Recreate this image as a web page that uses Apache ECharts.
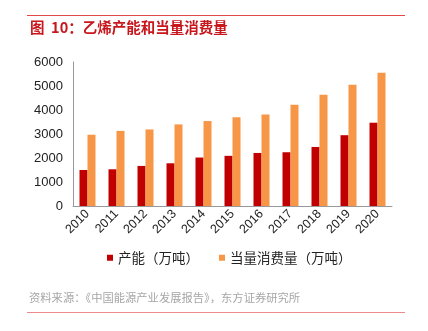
<!DOCTYPE html>
<html>
<head>
<meta charset="utf-8">
<style>
  html, body { margin: 0; padding: 0; background: #fff; }
  #chart { width: 428px; height: 331px; }
</style>
<script src="https://cdn.jsdelivr.net/npm/echarts@6/dist/echarts.min.js"></script>
</head>
<body>
<div id="chart"></div>
<script>
// Ethylene capacity vs. equivalent consumption, 10k tonnes
const years = ['2010', '2011', '2012', '2013', '2014', '2015', '2016', '2017', '2018', '2019', '2020'];
const capacity = [1500, 1530, 1670, 1780, 2020, 2090, 2210, 2240, 2460, 2950, 3470];
const consumption = [2970, 3130, 3190, 3400, 3540, 3700, 3810, 4220, 4640, 5050, 5550];
const yTicks = { min: 0, max: 6000, interval: 1000 };

const titleText = '图  10：乙烯产能和当量消费量';
const sourceText = '资料来源：《中国能源产业发展报告》，东方证券研究所';
const seriesNames = ['产能（万吨）', '当量消费量（万吨）'];

const latin = '"Liberation Sans", Arial, "Noto Sans CJK SC", sans-serif';
const cjk = '"Noto Sans CJK SC", "Liberation Sans", sans-serif';

const chart = echarts.init(document.getElementById('chart'), null, { renderer: 'canvas' });

chart.setOption({
  animation: false,
  backgroundColor: '#ffffff',
  grid: { left: 73, right: 36, top: 62, bottom: 125, containLabel: false },
  legend: {
    top: 246,
    left: 102,
    itemWidth: 6,
    itemHeight: 6,
    itemGap: 20,
    icon: 'rect',
    textStyle: { fontFamily: cjk, fontSize: 13.5, color: '#222' },
    data: seriesNames
  },
  xAxis: {
    type: 'category',
    data: years,
    axisLine: { lineStyle: { color: '#999', width: 1 } },
    axisTick: { show: false },
    axisLabel: {
      rotate: 45,
      interval: 0,
      margin: 6,
      fontFamily: latin,
      fontSize: 12.5,
      color: '#222'
    }
  },
  yAxis: {
    type: 'value',
    min: yTicks.min,
    max: yTicks.max,
    interval: yTicks.interval,
    axisLine: { show: true, lineStyle: { color: '#999', width: 1 } },
    axisTick: { show: false },
    splitLine: { show: false },
    axisLabel: {
      fontFamily: latin,
      fontSize: 13,
      color: '#222',
      margin: 10,
      formatter: (v) => String(v)
    }
  },
  series: [
    {
      name: seriesNames[0],
      type: 'bar',
      data: capacity,
      barWidth: 8,
      barGap: '0%',
      itemStyle: { color: '#c00000' }
    },
    {
      name: seriesNames[1],
      type: 'bar',
      data: consumption,
      barWidth: 8,
      barGap: '0%',
      itemStyle: { color: '#f79646' }
    }
  ],
  graphic: [
    {
      type: 'line',
      shape: { x1: 27, y1: 15.5, x2: 405, y2: 15.5 },
      style: { stroke: '#e2474a', lineWidth: 1 }
    },
    {
      type: 'text',
      left: 30,
      top: 20,
      style: {
        text: titleText,
        fill: '#c8161d',
        font: 'bold 14.5px ' + cjk
      }
    },
    {
      type: 'text',
      left: 29,
      top: 292,
      style: {
        text: sourceText,
        fill: '#a6a6a6',
        font: '11.3px ' + cjk
      }
    },
    {
      type: 'line',
      shape: { x1: 27, y1: 312.5, x2: 405, y2: 312.5 },
      style: { stroke: '#ee8a8a', lineWidth: 1 }
    }
  ]
});
</script>
</body>
</html>
